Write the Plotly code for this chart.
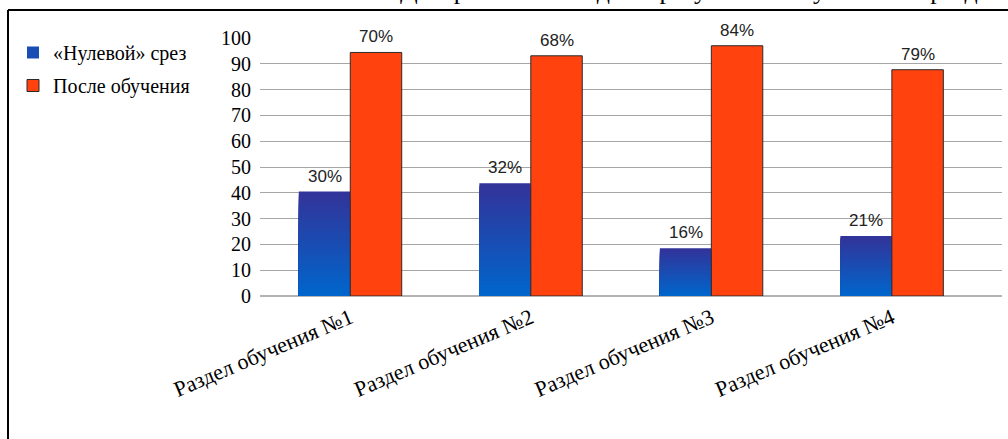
import plotly.graph_objects as go

# Chart data
categories = ["Раздел обучения №1", "Раздел обучения №2", "Раздел обучения №3", "Раздел обучения №4"]
baseline_values = [40.5, 43.7, 18.5, 23.3]
after_values = [94.4, 93.1, 97.0, 87.7]
baseline_labels = ["30%", "32%", "16%", "21%"]
after_labels = ["70%", "68%", "84%", "79%"]
series_names = ["«Нулевой» срез", "После обучения"]
y_ticks = list(range(0, 101, 10))

W, H = 1008, 439
ML, MR, MT, MB = 260, 6, 38, 143
PW, PH = W - ML - MR, H - MT - MB

BAR_W = 0.285
CAT_PX = 180.5
SERIF = "Liberation Serif, DejaVu Serif, serif"
SANS = "Liberation Sans"


def px_x(px):
    return (px - ML) / PW


def px_y(py):
    return 1 - (py - MT) / PH


def mix(c1, c2, t):
    a = [int(c1[i:i + 2], 16) for i in (1, 3, 5)]
    b = [int(c2[i:i + 2], 16) for i in (1, 3, 5)]
    return "#" + "".join(f"{round(a[j] + (b[j] - a[j]) * t):02x}" for j in range(3))


fig = go.Figure()

# Blue bars with a vertical gradient: nested bars, each shorter one drawn on top
N = 40
bottom_c, top_c = "#0066cc", "#333399"
for k in range(N):
    frac = (N - k) / N
    t = (N - k - 0.5) / N
    fig.add_trace(go.Bar(
        x=categories,
        y=[v * frac for v in baseline_values],
        width=BAR_W, offset=-BAR_W,
        marker=dict(color=mix(bottom_c, top_c, t), line=dict(width=0)),
        name=series_names[0],
        legendgroup="g1",
        showlegend=(k == N // 2),
        hoverinfo="skip",
    ))

fig.add_trace(go.Bar(
    x=categories, y=after_values,
    width=BAR_W, offset=0,
    marker=dict(color="#ff420e", line=dict(color="#2a2a2a", width=1)),
    name=series_names[1],
    legendgroup="g2",
))

# Value labels above the bars
for cat, v, lab in zip(categories, baseline_values, baseline_labels):
    fig.add_annotation(x=cat, y=v, text=lab, showarrow=False, xshift=-BAR_W * CAT_PX / 2,
                       yanchor="bottom", yshift=4, font=dict(family=SANS, size=17, color="#222"))
for cat, v, lab in zip(categories, after_values, after_labels):
    fig.add_annotation(x=cat, y=v, text=lab, showarrow=False, xshift=BAR_W * CAT_PX / 2,
                       yanchor="bottom", yshift=4, font=dict(family=SANS, size=17, color="#222"))

# Caption line at the top edge of the page (partly cut off)
fig.add_annotation(xref="paper", yref="paper", x=px_x(398), y=px_y(7), xanchor="left", yanchor="bottom",
                   text="Диаграмма 1. Сводные результаты обучения по разделам", showarrow=False,
                   font=dict(family=SERIF, size=26, color="#000"))

# Frame around the chart block
fig.add_shape(type="line", xref="paper", yref="paper", x0=px_x(8), x1=px_x(W + 5), y0=px_y(10), y1=px_y(10),
              line=dict(color="#000", width=2))
fig.add_shape(type="line", xref="paper", yref="paper", x0=px_x(8), x1=px_x(8), y0=px_y(10), y1=px_y(H + 5),
              line=dict(color="#000", width=2))

fig.update_layout(
    width=W, height=H,
    margin=dict(l=ML, r=MR, t=MT, b=MB),
    paper_bgcolor="white", plot_bgcolor="white",
    barmode="overlay",
    showlegend=True,
    legend=dict(x=px_x(13), y=px_y(33), xanchor="left", yanchor="top",
                font=dict(family=SERIF, size=20, color="#000"),
                tracegroupgap=4, bgcolor="rgba(0,0,0,0)"),
    xaxis=dict(type="category", range=[-0.5, 3.61], showgrid=False, zeroline=False,
               showline=False, ticks="", tickangle=-23, ticklabelstandoff=4,
               tickfont=dict(family=SERIF, size=22, color="#000")),
    yaxis=dict(range=[0, 100], tickvals=y_ticks, showgrid=True, gridcolor="#a6a6a6", gridwidth=1,
               zeroline=True, zerolinecolor="#b3b3b3", zerolinewidth=2, showline=False,
               ticks="", ticklabelstandoff=8,
               tickfont=dict(family=SERIF, size=20, color="#000")),
)

fig.write_html("out.html")
